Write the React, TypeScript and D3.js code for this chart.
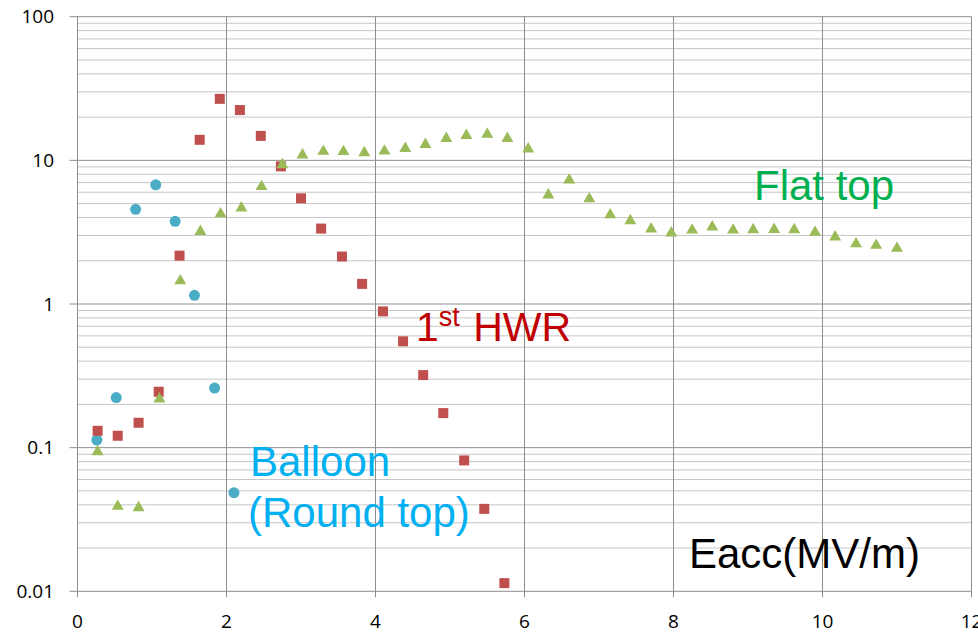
import React from "react";
import * as d3 from "d3";

// Balloon (round top) cavity
const balloonX = [0.26, 0.52, 0.78, 1.05, 1.31, 1.57, 1.84, 2.1];
const balloonY = [0.113, 0.223, 4.56, 6.75, 3.76, 1.15, 0.26, 0.0486];

// 1st HWR cavity
const hwrX = [0.27, 0.54, 0.82, 1.09, 1.37, 1.64, 1.91, 2.18, 2.46, 2.73, 3.0, 3.27, 3.55, 3.82, 4.1, 4.37, 4.64, 4.91, 5.19, 5.46, 5.73];
const hwrY = [0.131, 0.121, 0.149, 0.245, 2.17, 13.9, 26.8, 22.4, 14.8, 9.08, 5.44, 3.35, 2.14, 1.38, 0.888, 0.55, 0.32, 0.174, 0.0815, 0.0375, 0.0114];

// Flat top cavity
const flatX = [0.27, 0.54, 0.82, 1.1, 1.38, 1.65, 1.92, 2.2, 2.47, 2.75, 3.02, 3.3, 3.57, 3.85, 4.12, 4.4, 4.67, 4.95, 5.22, 5.5, 5.77, 6.05, 6.32, 6.6, 6.87, 7.15, 7.42, 7.7, 7.97, 8.25, 8.52, 8.8, 9.07, 9.35, 9.62, 9.9, 10.17, 10.45, 10.72, 11.0];
const flatY = [0.0936, 0.039, 0.0382, 0.218, 1.45, 3.2, 4.24, 4.66, 6.56, 9.33, 10.9, 11.55, 11.5, 11.3, 11.6, 12.1, 12.9, 14.2, 14.9, 15.2, 14.2, 12.0, 5.74, 7.3, 5.39, 4.17, 3.8, 3.33, 3.12, 3.27, 3.44, 3.27, 3.29, 3.3, 3.29, 3.15, 2.93, 2.62, 2.56, 2.44];

const xTicks = [0, 2, 4, 6, 8, 10, 12];
const yTicks = [0.01, 0.1, 1, 10, 100];
const yTickLabels = ["0.01", "0.1", "1", "10", "100"];

export default function App() {
  const W = 978;
  const H = 635;
  const x = d3.scaleLinear().domain([0, 12]).range([77.5, 971.5]);
  const y = d3.scaleLog().domain([0.01, 100]).range([591.3, 16.7]);

  const minor: number[] = [];
  yTicks.slice(0, -1).forEach((d) => {
    for (let k = 2; k <= 9; k++) minor.push(k * d);
  });

  const [x0, x1] = x.range();
  const [yb, yt] = y.range();
  const tri = d3.symbol().type(d3.symbolTriangle).size(62)() as string;
  const font = "'Liberation Sans', Arial, sans-serif";
  const tickFont = "'Open Sans', 'Liberation Sans', sans-serif";

  return (
    <svg width={W} height={H} style={{ position: "absolute", left: 0, top: 0, background: "#fff" }}>
      {/* minor horizontal grid */}
      {minor.map((v, i) => (
        <line key={"mn" + i} x1={x0} x2={x1} y1={y(v)} y2={y(v)} stroke="#c6c6c6" strokeWidth={1} />
      ))}
      {/* major horizontal grid */}
      {yTicks.map((v, i) => (
        <line key={"mj" + i} x1={x0 - 8} x2={x1} y1={y(v)} y2={y(v)} stroke="#8e8e8e" strokeWidth={1} />
      ))}
      {/* vertical grid */}
      {xTicks.map((v, i) => (
        <line key={"vx" + i} x1={x(v)} x2={x(v)} y1={yt} y2={yb + 6} stroke="#8e8e8e" strokeWidth={1} />
      ))}
      {/* y tick labels */}
      {yTicks.map((v, i) => (
        <text key={"yl" + i} x={54} y={y(v)} dy="0.35em" textAnchor="end" fontFamily={tickFont} fontSize={19} fill="#000">
          {yTickLabels[i]}
        </text>
      ))}
      {/* x tick labels */}
      {xTicks.map((v, i) => (
        <text key={"xl" + i} x={x(v)} y={628} textAnchor="middle" fontFamily={tickFont} fontSize={19} fill="#000">
          {v}
        </text>
      ))}

      {/* Balloon */}
      {balloonX.map((v, i) => (
        <circle key={"b" + i} cx={x(v)} cy={y(balloonY[i])} r={5.5} fill="#4BACC6" />
      ))}
      {/* 1st HWR */}
      {hwrX.map((v, i) => (
        <rect key={"h" + i} x={x(v) - 5} y={y(hwrY[i]) - 5} width={10} height={10} fill="#C0504D" />
      ))}
      {/* Flat top */}
      {flatX.map((v, i) => (
        <path key={"f" + i} d={tri} transform={`translate(${x(v)},${y(flatY[i])})`} fill="#9BBB59" />
      ))}

      {/* annotations */}
      <text x={250} y={476} fontFamily={font} fontSize={42} fill="#00B0F0">Balloon</text>
      <text x={248} y={527} fontFamily={font} fontSize={42} fill="#00B0F0">(Round top)</text>
      <text x={416} y={341} fontFamily={font} fontSize={41} fill="#C00000">
        <tspan>1</tspan>
        <tspan fontSize={27} dy={-15}>st</tspan>
        <tspan dy={15} dx={2}> HWR</tspan>
      </text>
      <text x={754} y={200} fontFamily={font} fontSize={42} fill="#00B050">Flat top</text>
      <text x={689} y={568} fontFamily={font} fontSize={42} fill="#000">Eacc(MV/m)</text>
    </svg>
  );
}
